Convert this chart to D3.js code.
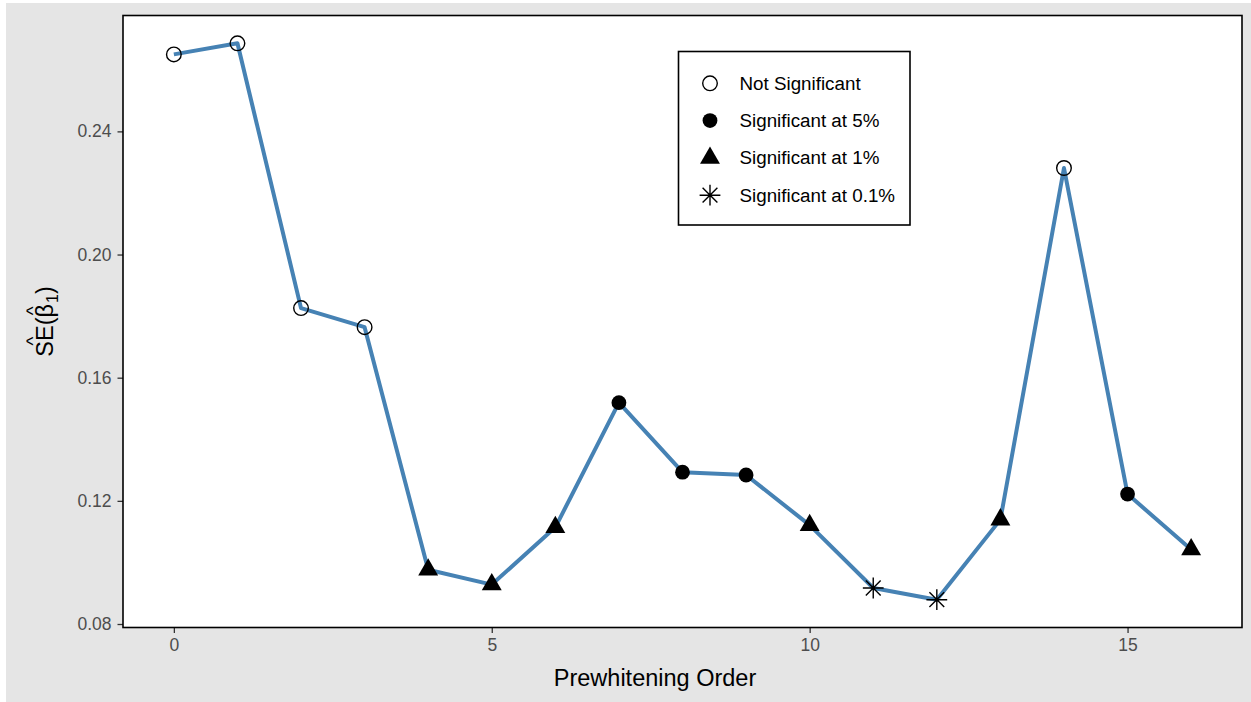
<!DOCTYPE html>
<html>
<head>
<meta charset="utf-8">
<script src="https://cdn.jsdelivr.net/npm/d3@7"></script>
<style>
  html, body { margin: 0; padding: 0; background: #ffffff; }
  svg { display: block; }
  text { font-family: "Liberation Sans", Arial, sans-serif; }
</style>
</head>
<body>
<svg id="chart" width="1251" height="702"></svg>
<script>
// ---- data ----
const orders = [0, 1, 2, 3, 4, 5, 6, 7, 8, 9, 10, 11, 12, 13, 14, 15, 16];
const seValues = [0.2650, 0.2686, 0.1826, 0.1764, 0.0976, 0.0928, 0.1114, 0.1519, 0.1293, 0.1284,
                  0.1121, 0.0917, 0.0879, 0.1139, 0.2281, 0.1222, 0.1042];
const significance = ["Not Significant", "Not Significant", "Not Significant", "Not Significant",
                      "Significant at 1%", "Significant at 1%", "Significant at 1%",
                      "Significant at 5%", "Significant at 5%", "Significant at 5%",
                      "Significant at 1%", "Significant at 0.1%", "Significant at 0.1%",
                      "Significant at 1%", "Not Significant", "Significant at 5%", "Significant at 1%"];
const legendLabels = ["Not Significant", "Significant at 5%", "Significant at 1%", "Significant at 0.1%"];
const xTicks = [0, 5, 10, 15];
const yTicks = [0.08, 0.12, 0.16, 0.20, 0.24];
const xTitle = "Prewhitening Order";

// ---- layout ----
const W = 1251, H = 702;
const panel = { left: 123, right: 1242, top: 15.5, bottom: 627.5 };

const svg = d3.select("#chart");
svg.append("rect").attr("x", 6).attr("y", 3).attr("width", W - 6).attr("height", H - 3).attr("fill", "#E5E5E5");
svg.append("rect").attr("x", panel.left).attr("y", panel.top)
  .attr("width", panel.right - panel.left).attr("height", panel.bottom - panel.top).attr("fill", "#ffffff");

const xExt = d3.extent(orders), yExt = d3.extent(seValues);
const xPad = (xExt[1] - xExt[0]) * 0.05, yPad = (yExt[1] - yExt[0]) * 0.05;
const x = d3.scaleLinear().domain([xExt[0] - xPad, xExt[1] + xPad]).range([panel.left, panel.right]);
const y = d3.scaleLinear().domain([yExt[0] - yPad, yExt[1] + yPad]).range([panel.bottom, panel.top]);

// axes
const xAxis = svg.append("g").attr("transform", `translate(0,${panel.bottom})`)
  .call(d3.axisBottom(x).tickValues(xTicks).tickFormat(d3.format("d")).tickSize(5.5).tickPadding(4));
const yAxis = svg.append("g").attr("transform", `translate(${panel.left},0)`)
  .call(d3.axisLeft(y).tickValues(yTicks).tickFormat(d3.format(".2f")).tickSize(5.5).tickPadding(6));
[xAxis, yAxis].forEach(a => {
  a.select(".domain").remove();
  a.attr("font-size", null).attr("font-family", null);
  a.selectAll(".tick line").attr("stroke", "#333333").attr("stroke-width", 1.3);
  a.selectAll(".tick text").attr("fill", "#4D4D4D").style("font-size", "17.5px")
    .style("font-family", '"Liberation Sans", Arial, sans-serif');
});
xAxis.selectAll(".tick text").attr("dy", "0.8em");

// line
const points = orders.map((o, i) => ({ o, v: seValues[i], s: significance[i] }));
svg.append("path").datum(points)
  .attr("fill", "none").attr("stroke", "#4682B4").attr("stroke-width", 4)
  .attr("stroke-linejoin", "round")
  .attr("d", d3.line().x(d => x(d.o)).y(d => y(d.v)));

// symbols
function drawSymbol(g, kind, cx, cy) {
  if (kind === "Not Significant") {
    g.append("circle").attr("cx", cx).attr("cy", cy).attr("r", 7.3)
      .attr("fill", "none").attr("stroke", "#000").attr("stroke-width", 1.4);
  } else if (kind === "Significant at 5%") {
    g.append("circle").attr("cx", cx).attr("cy", cy).attr("r", 7.4).attr("fill", "#000");
  } else if (kind === "Significant at 1%") {
    const R = 7.4;
    const r0 = 1.5551 * R, xc = 1.3468 * R, yc = 0.7776 * R;
    g.append("path").attr("fill", "#000")
      .attr("d", `M${cx},${cy - r0}L${cx + xc},${cy + yc}L${cx - xc},${cy + yc}Z`);
  } else {
    const p = 10.4, q = 7.4;
    g.append("path").attr("fill", "none").attr("stroke", "#000").attr("stroke-width", 1.4)
      .attr("d", `M${cx - p},${cy}L${cx + p},${cy}M${cx},${cy - p}L${cx},${cy + p}` +
                 `M${cx - q},${cy - q}L${cx + q},${cy + q}M${cx - q},${cy + q}L${cx + q},${cy - q}`);
  }
}
const symG = svg.append("g");
points.forEach(d => drawSymbol(symG, d.s, x(d.o), y(d.v)));

// panel border
svg.append("rect").attr("x", panel.left).attr("y", panel.top)
  .attr("width", panel.right - panel.left).attr("height", panel.bottom - panel.top)
  .attr("fill", "none").attr("stroke", "#000").attr("stroke-width", 1.6);

// legend
const lg = svg.append("g");
lg.append("rect").attr("x", 678.5).attr("y", 51.5).attr("width", 231.5).attr("height", 173.5)
  .attr("fill", "#fff").attr("stroke", "#000").attr("stroke-width", 1.6);
legendLabels.forEach((lab, i) => {
  const cy = 83.3 + i * 37.3;
  drawSymbol(lg, lab, 710, cy);
  lg.append("text").attr("x", 739.5).attr("y", cy).attr("dy", "0.35em")
    .style("font-size", "18.8px").attr("fill", "#000").text(lab);
});

// x title
svg.append("text").attr("x", 655).attr("y", 686)
  .attr("text-anchor", "middle").style("font-size", "23.5px").attr("fill", "#000").text(xTitle);

// y title: SE-hat ( beta-hat _1 )
const yt = svg.append("g").attr("transform", `translate(53,${(panel.top + panel.bottom) / 2}) rotate(-90)`);
const pieces = [
  { t: "SE", size: 23.5, dy: 0, hat: true },
  { t: "(", size: 23.5, dy: 0 },
  { t: "β", size: 23.5, dy: 0, hat: true },
  { t: "1", size: 16, dy: 4.5 },
  { t: ")", size: 23.5, dy: 0 }
];
let cursor = 0;
const placed = [];
pieces.forEach(p => {
  const el = yt.append("text").attr("x", cursor).attr("y", p.dy).style("font-size", p.size + "px")
    .attr("fill", "#000").text(p.t);
  const w = el.node().getComputedTextLength();
  placed.push({ el, x: cursor, w, p });
  cursor += w + (p.t === "β" ? 1 : 0);
});
const total = cursor;
placed.forEach(o => {
  o.el.attr("x", o.x - total / 2);
  if (o.p.hat) {
    yt.append("text").attr("x", o.x - total / 2 + o.w / 2).attr("y", -14)
      .attr("text-anchor", "middle").style("font-size", "19px").attr("fill", "#000").text("^");
  }
});
</script>
</body>
</html>
